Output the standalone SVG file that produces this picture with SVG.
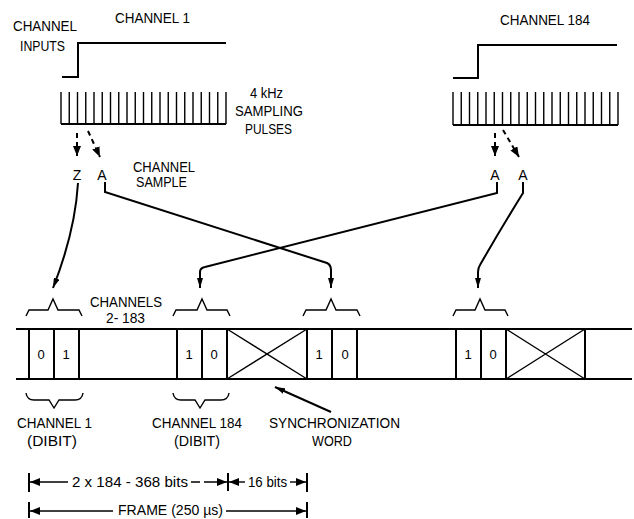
<svg xmlns="http://www.w3.org/2000/svg" width="634" height="519" viewBox="0 0 634 519">
<style>
text{font-family:"Liberation Sans",Arial,sans-serif;font-size:14px;fill:#000}
.c{text-anchor:middle}
.b{font-size:13px}
.ln{fill:none;stroke:#000;stroke-width:2}
.th{fill:none;stroke:#000;stroke-width:1.4}
.ds{fill:none;stroke:#000;stroke-width:2;stroke-dasharray:5 4}
</style>
<defs>
<marker id="ah" viewBox="0 0 10 6" refX="10" refY="3" markerWidth="10" markerHeight="6" markerUnits="userSpaceOnUse" orient="auto">
<path d="M0,0 L10,3 L0,6 Z" fill="#000"/>
</marker>
<marker id="dh" viewBox="0 0 10 8" refX="10" refY="4" markerWidth="10" markerHeight="8" markerUnits="userSpaceOnUse" orient="auto">
<path d="M0,0 L10,4 L0,8 Z" fill="#000"/>
</marker>
</defs>

<g id="channel1-input">
<path class="ln" d="M62,77 H78 V43 H226"/>
<text x="115" y="23" textLength="75" lengthAdjust="spacingAndGlyphs">CHANNEL 1</text>
<text x="13" y="31" textLength="64" lengthAdjust="spacingAndGlyphs">CHANNEL</text>
<text x="20" y="51" textLength="45" lengthAdjust="spacingAndGlyphs">INPUTS</text>
</g>

<g id="channel184-input">
<path class="ln" d="M453,78 H478 V45 H617"/>
<text x="500" y="25" textLength="90" lengthAdjust="spacingAndGlyphs">CHANNEL 184</text>
</g>

<g id="pulses1">
<path class="ln" d="M61,124 H226"/>
<path class="th" d="M61,92V124M69.25,92V124M77.5,92V124M85.75,92V124M94,92V124M102.25,92V124M110.5,92V124M118.75,92V124M127,92V124M135.25,92V124M143.5,92V124M151.75,92V124M160,92V124M168.25,92V124M176.5,92V124M184.75,92V124M193,92V124M201.25,92V124M209.5,92V124M217.75,92V124M226,92V124"/>
</g>

<g id="pulses184">
<path class="ln" d="M453,125 H618"/>
<path class="th" d="M453,92V125M461.25,92V125M469.5,92V125M477.75,92V125M486,92V125M494.25,92V125M502.5,92V125M510.75,92V125M519,92V125M527.25,92V125M535.5,92V125M543.75,92V125M552,92V125M560.25,92V125M568.5,92V125M576.75,92V125M585,92V125M593.25,92V125M601.5,92V125M609.75,92V125M618,92V125"/>
</g>

<g id="sampling-label">
<text x="266.5" y="98" class="c" textLength="33" lengthAdjust="spacingAndGlyphs">4 kHz</text>
<text x="235" y="116" textLength="68" lengthAdjust="spacingAndGlyphs">SAMPLING</text>
<text x="245" y="134" textLength="47" lengthAdjust="spacingAndGlyphs">PULSES</text>
</g>

<g id="samples">
<text x="77" y="180" class="c">Z</text>
<text x="102" y="180" class="c">A</text>
<text x="495" y="180" class="c">A</text>
<text x="523" y="180" class="c">A</text>
<text x="133" y="172" textLength="62" lengthAdjust="spacingAndGlyphs">CHANNEL</text>
<text x="136" y="187" textLength="51" lengthAdjust="spacingAndGlyphs">SAMPLE</text>
</g>

<g id="frame">
<path class="ln" d="M16,329 H632 M16,379 H632"/>
<path class="ln" d="M29,329V379M54,329V379M79,329V379M177,329V379M202,329V379M227,329V379M307,329V379M332,329V379M357,329V379M456,329V379M481,329V379M506,329V379M585,329V379"/>
<path class="th" d="M227,329 L307,379 M227,379 L307,329 M506,329 L585,379 M506,379 L585,329"/>
<text x="41" y="359" class="c b">0</text>
<text x="66" y="359" class="c b">1</text>
<text x="189" y="359" class="c b">1</text>
<text x="214" y="359" class="c b">0</text>
<text x="319" y="359" class="c b">1</text>
<text x="345" y="359" class="c b">0</text>
<text x="468" y="359" class="c b">1</text>
<text x="493" y="359" class="c b">0</text>
</g>

<g id="braces-top">
<path class="th" d="M26,316 L29,310 H48 L53,299 L58,310 H79 L82,316"/>
<path class="th" d="M173,316 L176,310 H197 L202,299 L207,310 H227 L230,316"/>
<path class="th" d="M303,316 L306,310 H326 L331,299 L336,310 H357 L360,316"/>
<path class="th" d="M453,316 L456,310 H475 L480,299 L485,310 H505 L508,316"/>
<text x="90" y="307" textLength="72" lengthAdjust="spacingAndGlyphs">CHANNELS</text>
<text x="106" y="323" textLength="39" lengthAdjust="spacingAndGlyphs">2- 183</text>
</g>

<g id="braces-bottom">
<path class="th" d="M26,393 Q27,400 34,400 H49 L54,408 L59,400 H75 Q82,400 83,393"/>
<path class="th" d="M173,393 Q174,400 181,400 H195 L200,408 L205,400 H221 Q228,400 229,393"/>
<text x="17" y="428" textLength="75" lengthAdjust="spacingAndGlyphs">CHANNEL 1</text>
<text x="27" y="446" textLength="50" lengthAdjust="spacingAndGlyphs">(DIBIT)</text>
<text x="152" y="428" textLength="90" lengthAdjust="spacingAndGlyphs">CHANNEL 184</text>
<text x="174" y="446" textLength="46" lengthAdjust="spacingAndGlyphs">(DIBIT)</text>
<text x="269" y="428" textLength="131" lengthAdjust="spacingAndGlyphs">SYNCHRONIZATION</text>
<text x="312" y="446" textLength="40" lengthAdjust="spacingAndGlyphs">WORD</text>
</g>

<g id="dimensions">
<path class="ln" d="M29,473V492 M228,473V491 M307,473V492 M29,502V518 M307,502V518"/>
<path class="th" d="M68,482 H30" marker-end="url(#dh)"/>
<text x="72" y="487" textLength="116" lengthAdjust="spacingAndGlyphs">2 x 184 - 368 bits</text>
<path class="th" d="M191,482 H200 M204,482 H227" marker-end="url(#dh)"/>
<path class="th" d="M245,482 H229" marker-end="url(#dh)"/>
<text x="248" y="487" textLength="39" lengthAdjust="spacingAndGlyphs">16 bits</text>
<path class="th" d="M290,482 H306" marker-end="url(#dh)"/>
<path class="th" d="M113,511 H30" marker-end="url(#dh)"/>
<text x="118" y="515" font-size="13" textLength="105" lengthAdjust="spacingAndGlyphs">FRAME (250 µs)</text>
<path class="th" d="M226,511 H306" marker-end="url(#dh)"/>
</g>

<g id="connectors">
<path class="ds" d="M77,133 V156" marker-end="url(#dh)"/>
<path class="ds" d="M88,131 L100,157" marker-end="url(#dh)"/>
<path class="ds" d="M495,133 V156" marker-end="url(#dh)"/>
<path class="ds" d="M503,130 L519,157" marker-end="url(#dh)"/>
<path class="ln" d="M78,183 Q75,232 53,288" marker-end="url(#ah)"/>
<path class="ln" d="M105,182 V192 L327,263 Q331,265 331,270 V288" marker-end="url(#ah)"/>
<path class="ln" d="M497,182 V193 L205,267 Q200,268 200,272 V288" marker-end="url(#ah)"/>
<path class="ln" d="M523,182 V193 Q500,230 480,265 Q478,268 478,272 V288" marker-end="url(#ah)"/>
<path class="ln" d="M331,412 L275,387" marker-end="url(#ah)"/>
</g>
</svg>
